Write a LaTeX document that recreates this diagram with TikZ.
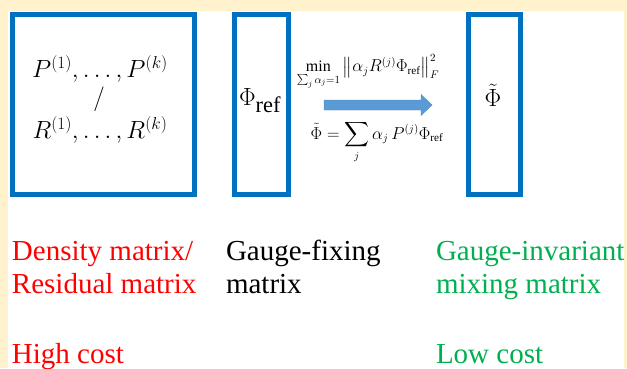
\documentclass[tikz,border=0pt]{standalone}
\usepackage{amsmath}
\usepackage{fontspec}
\setmainfont{Liberation Serif}
\definecolor{cream}{HTML}{FFF2CC}
\definecolor{boxblue}{HTML}{0070C0}
\definecolor{arrowblue}{HTML}{5B9BD5}
\definecolor{arrowedge}{HTML}{5289C4}
\definecolor{txtred}{HTML}{FF0000}
\definecolor{txtgreen}{HTML}{00B050}
\tikzset{
  matbox/.style={draw=boxblue, line width=5pt, rectangle, inner sep=0pt, outer sep=0pt},
  lbl/.style={inner sep=0pt, outer sep=0pt, anchor=base west, font=\fontsize{29}{33}\selectfont},
  mth/.style={inner sep=0pt, outer sep=0pt}
}
\begin{document}
\begin{tikzpicture}[x=1pt,y=-1pt]
\useasboundingbox (0,0) rectangle (627,368);
\fill[cream] (0,0) rectangle (627,368);
\fill[white] (8,11) rectangle (624,368);
% boxes
\node[matbox, minimum width=182pt, minimum height=180pt] (b1) at (103.5,104.5) {};
\node[matbox, minimum width=53.5pt, minimum height=180pt] (b2) at (261.25,104.5) {};
\node[matbox, minimum width=52pt, minimum height=180pt] (b3) at (494.5,104.5) {};
% box contents
\node[mth, font=\fontsize{24}{28}\selectfont] (p) at (100,69) {$P^{(1)},\ldots,P^{(k)}$};
\node[mth, font=\fontsize{24}{28}\selectfont] (sl) at (99,99) {$/$};
\node[mth, font=\fontsize{24}{28}\selectfont] (r) at (100,130) {$R^{(1)},\ldots,R^{(k)}$};
\node[mth, font=\fontsize{32}{36}\selectfont] (phiref) at (260,101) {$\Phi_{\mathrm{ref}}$};
\node[mth, font=\fontsize{28}{32}\selectfont] (phit) at (493,95) {$\tilde{\Phi}$};
% arrow
\fill[arrowblue, draw=arrowedge, line width=0.4pt]
  (324,100) -- (421,100) -- (421,94.5) -- (432,105) -- (421,115.5) -- (421,110) -- (324,110) -- cycle;
\node[mth, font=\fontsize{16}{19}\selectfont] (fmin) at (368,72)
  {$\min\limits_{\sum_j\alpha_j=1}\left\|\alpha_j R^{(j)}\Phi_{\mathrm{ref}}\right\|_F^2$};
\node[mth, font=\fontsize{16}{19}\selectfont] (fsum) at (377,142)
  {$\displaystyle\tilde{\Phi}=\sum_j\alpha_j\,P^{(j)}\Phi_{\mathrm{ref}}$};
% captions
\node[lbl, text=txtred] (t1) at (12,260) {Density matrix/};
\node[lbl, text=txtred] (t2) at (12,293) {Residual matrix};
\node[lbl, text=txtred] (t3) at (12,363) {High cost};
\node[lbl, text=black] (t4) at (226,260) {Gauge-fixing};
\node[lbl, text=black] (t5) at (226,293) {matrix};
\node[lbl, text=txtgreen] (t6) at (436,260) {Gauge-invariant};
\node[lbl, text=txtgreen] (t7) at (436,293) {mixing matrix};
\node[lbl, text=txtgreen] (t8) at (436,363) {Low cost};
\end{tikzpicture}
\end{document}
